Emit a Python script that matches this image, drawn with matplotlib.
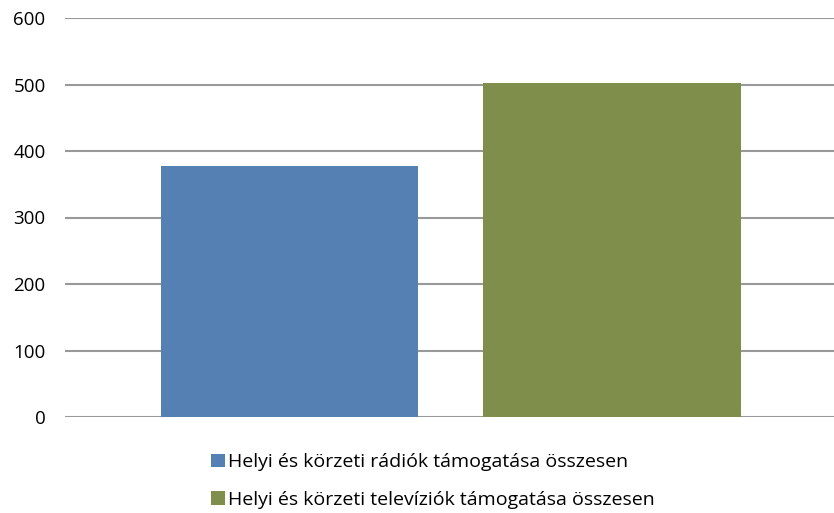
import matplotlib
matplotlib.use("Agg")
import matplotlib.pyplot as plt
from matplotlib.patches import Patch

series_labels = ["Helyi és körzeti rádiók támogatása összesen",
                 "Helyi és körzeti televíziók támogatása összesen"]
values = [377, 502]
colors = ["#5480B4", "#7F8E4A"]
yticks = [0, 100, 200, 300, 400, 500, 600]

plt.rcParams['font.family'] = ['Open Sans', 'DejaVu Sans']

fig = plt.figure(figsize=(8.34, 5.13), dpi=100)
ax = fig.add_axes([65/834, 1 - 417/513, 1 - 65/834, (417 - 18)/513])

for i, (v, c) in enumerate(zip(values, colors)):
    ax.bar(i, v, width=0.8, color=c, zorder=3)

ax.set_ylim(0, 600)
ax.set_xlim(-0.697, 1.69)
ax.set_yticks(yticks)
ax.set_yticklabels([str(t) for t in yticks], fontsize=13.5)
ax.set_xticks([])
ax.tick_params(axis='y', length=0, pad=14)
for s in ax.spines.values():
    s.set_visible(False)
ax.grid(axis='y', color='#999999', linewidth=1.5, zorder=0)
ax.set_axisbelow(True)

handles = [Patch(facecolor=c, edgecolor='none') for c in colors]
fig.legend(handles, series_labels, loc='center', bbox_to_anchor=(0.519, 1 - 481/513),
           ncol=1, frameon=False, fontsize=14, handlelength=0.7, handleheight=0.7,
           handletextpad=0.15, labelspacing=1.0)

fig.savefig("out.png", dpi=100)
